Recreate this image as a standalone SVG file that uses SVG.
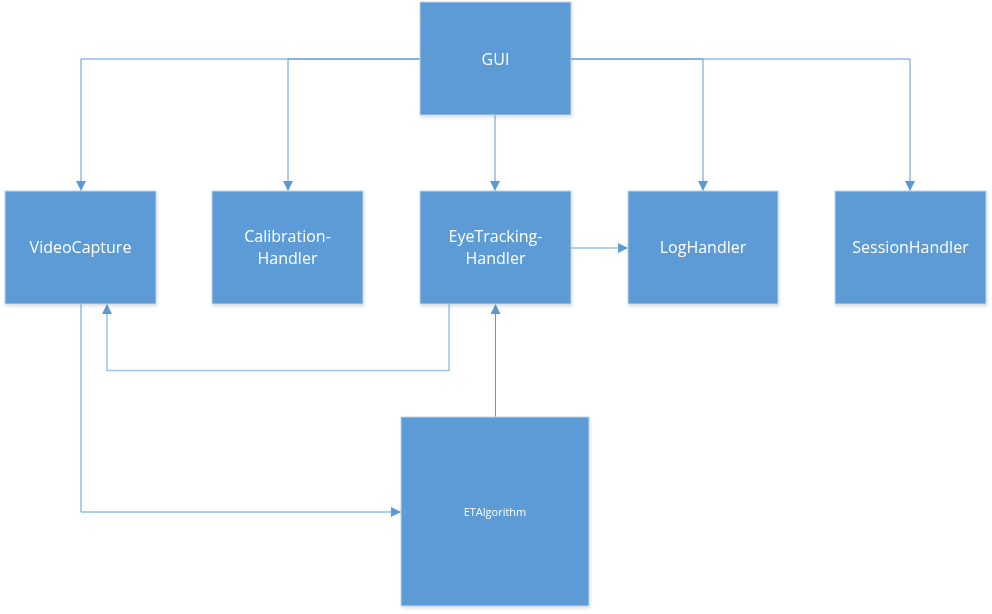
<svg xmlns="http://www.w3.org/2000/svg" width="992" height="614" viewBox="0 0 992 614">
<style>
.box{fill:#5B9BD5;stroke:#C3D3E6;stroke-width:1}
.lbl{fill:#FFFFFF;font-family:"Open Sans","Liberation Sans",sans-serif;font-size:16px;text-anchor:middle}
.small{font-size:11px}
.conn{fill:none;stroke:#5B9BD5;stroke-width:1}
.conn2{fill:none;stroke:#9DC3E6;stroke-width:1.5}
</style>
<defs>
<marker id="arr" viewBox="0 0 10 10" refX="10" refY="5" markerWidth="10" markerHeight="10" markerUnits="userSpaceOnUse" orient="auto">
<path d="M0,0 L10,5 L0,10 z" fill="#5B9BD5"/>
</marker>
<filter id="sh" x="-5%" y="-5%" width="115%" height="115%">
<feDropShadow dx="1" dy="2" stdDeviation="1.5" flood-color="#000" flood-opacity="0.12"/>
</filter>
</defs>
<g id="connectors">
<path class="conn" d="M420,59 H81 V191" marker-end="url(#arr)"/>
<path class="conn" d="M420,59 H288 V191" marker-end="url(#arr)"/>
<path class="conn" d="M495,115 V191" marker-end="url(#arr)"/>
<path class="conn" d="M571,59 H703 V191" marker-end="url(#arr)"/>
<path class="conn" d="M571,59 H910 V191" marker-end="url(#arr)"/>
<path class="conn2" d="M571,248 H628" marker-end="url(#arr)"/>
<path class="conn2" d="M449,304 V370.5 H107 V304" marker-end="url(#arr)"/>
<path class="conn" d="M81,304 V512 H401" marker-end="url(#arr)"/>
<path class="conn" d="M495.5,417 V304" marker-end="url(#arr)"/>
</g>
<g id="gui" filter="url(#sh)"><rect class="box" x="420" y="2" width="151" height="113"/><text class="lbl" x="495.5" y="65">GUI</text></g>
<g id="videocapture" filter="url(#sh)"><rect class="box" x="5" y="191" width="151" height="113"/><text class="lbl" x="80.5" y="253">VideoCapture</text></g>
<g id="calibration" filter="url(#sh)"><rect class="box" x="212" y="191" width="151" height="113"/><text class="lbl" x="287.5" y="242">Calibration-</text><text class="lbl" x="287.5" y="264">Handler</text></g>
<g id="eyetracking" filter="url(#sh)"><rect class="box" x="420" y="191" width="151" height="113"/><text class="lbl" x="495.5" y="242">EyeTracking-</text><text class="lbl" x="495.5" y="264">Handler</text></g>
<g id="loghandler" filter="url(#sh)"><rect class="box" x="628" y="191" width="150" height="113"/><text class="lbl" x="703" y="253">LogHandler</text></g>
<g id="sessionhandler" filter="url(#sh)"><rect class="box" x="835" y="191" width="151" height="113"/><text class="lbl" x="910.5" y="253">SessionHandler</text></g>
<g id="etalgorithm" filter="url(#sh)"><rect class="box" x="401" y="417" width="188" height="189"/><text class="lbl small" x="495" y="516">ETAlgorithm</text></g>
</svg>
